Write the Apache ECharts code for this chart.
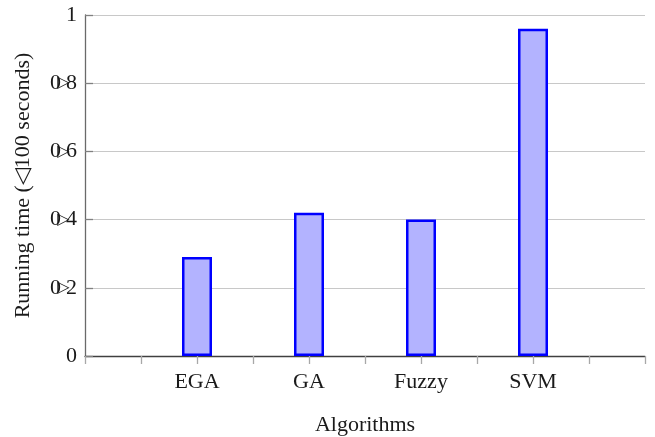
<!DOCTYPE html>
<html>
<head>
<meta charset="utf-8">
<script src="https://cdn.jsdelivr.net/npm/echarts@6/dist/echarts.min.js"></script>
<style>
  html, body { margin: 0; padding: 0; background: #fff; }
  #chart { width: 655px; height: 437px; }
</style>
</head>
<body>
<div id="chart"></div>
<script>
// Algorithm names and their running times (in units of 100 seconds)
var algorithms = ['EGA', 'GA', 'Fuzzy', 'SVM'];
var runningTimes = [0.29, 0.42, 0.40, 0.96];
// Tick labels shown along the running-time axis: [integer part, marker, fraction]
var yTickValues = [0, 0.2, 0.4, 0.6, 0.8, 1];
var yTickLabels = [['0'], ['0', '\u25B7', '2'], ['0', '\u25B7', '4'], ['0', '\u25B7', '6'], ['0', '\u25B7', '8'], ['1']];

var serif = '"Liberation Serif", "DejaVu Serif", serif';

var barData = algorithms.map(function (name, i) {
  return [i + 1, runningTimes[i]];
});

var chart = echarts.init(document.getElementById('chart'), null, { renderer: 'canvas' });
chart.setOption({
  animation: false,
  backgroundColor: '#ffffff',
  grid: { left: 85, right: 10, top: 15, bottom: 81, containLabel: false, outerBoundsMode: 'none' },
  xAxis: {
    type: 'value',
    min: 0,
    max: algorithms.length + 1,
    interval: 0.5,
    name: 'Algorithms',
    nameLocation: 'middle',
    nameGap: 58,
    nameTextStyle: { fontFamily: serif, fontSize: 22, color: '#1a1a1a' },
    axisLine: { show: true, lineStyle: { color: '#404040', width: 1.3 } },
    axisTick: { show: true, inside: false, length: 8, lineStyle: { color: '#a8a8a8', width: 1.3 } },
    axisLabel: {
      margin: 15,
      fontFamily: serif,
      fontSize: 22,
      color: '#1a1a1a',
      showMinLabel: true,
      showMaxLabel: true,
      formatter: function (v) {
        var idx = Math.round(v) - 1;
        if (Math.abs(v - Math.round(v)) < 1e-6 && idx >= 0 && idx < algorithms.length) {
          return algorithms[idx];
        }
        return '';
      }
    },
    splitLine: { show: false }
  },
  yAxis: {
    type: 'value',
    min: 0,
    max: 1,
    interval: 0.2,
    name: 'Running time (\u25C1100 seconds)',
    nameLocation: 'middle',
    nameGap: 51,
    nameRotate: 90,
    nameTextStyle: { fontFamily: serif, fontSize: 22, color: '#1a1a1a' },
    axisLine: { show: true, lineStyle: { color: '#6a6a6a', width: 1.3 } },
    axisTick: { show: true, inside: true, length: 8, lineStyle: { color: '#808080', width: 1.3 } },
    axisLabel: {
      margin: 8,
      fontFamily: serif,
      fontSize: 22,
      color: '#1a1a1a',
      formatter: function (v) {
        for (var i = 0; i < yTickValues.length; i++) {
          if (Math.abs(yTickValues[i] - v) < 1e-6) {
            var p = yTickLabels[i];
            if (p.length === 1) return '{d|' + p[0] + '}';
            return '{d|' + p[0] + '}{t|' + p[1] + '}{d|' + p[2] + '}';
          }
        }
        return '';
      },
      rich: {
        d: { fontFamily: serif, fontSize: 22, color: '#1a1a1a' },
        t: { fontFamily: '"DejaVu Sans", sans-serif', fontSize: 16, color: '#1a1a1a', width: 5, align: 'left' }
      }
    },
    splitLine: { show: true, lineStyle: { color: '#c8c8c8', width: 1 } }
  },
  series: [{
    type: 'bar',
    data: barData,
    barWidth: 30,
    itemStyle: { color: '#b3b3ff', borderColor: '#0000ff', borderWidth: 2.5 }
  }]
});
</script>
</body>
</html>
